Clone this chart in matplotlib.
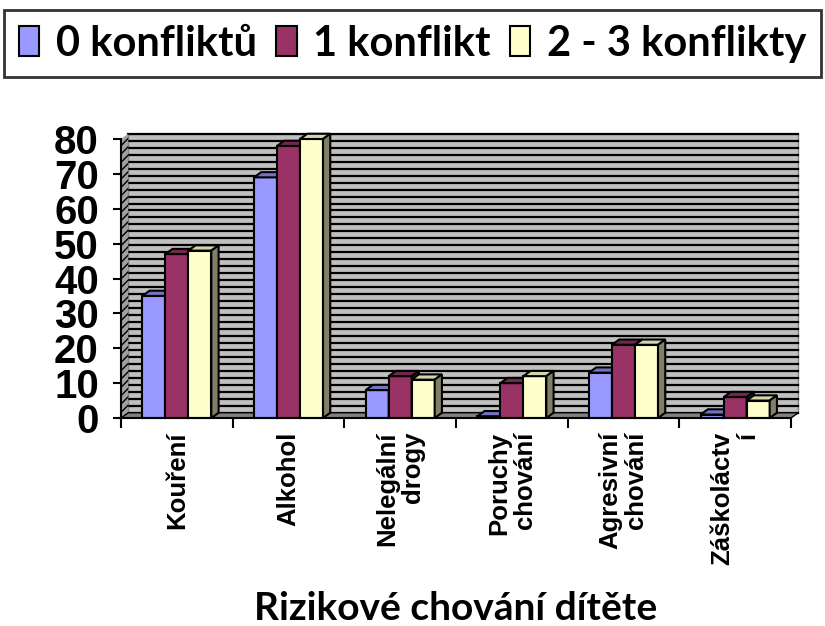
import matplotlib
matplotlib.use("Agg")
import matplotlib.pyplot as plt
from matplotlib.patches import Polygon, Patch

# data
categories = ["Kouření", "Alkohol", "Nelegální\ndrogy", "Poruchy\nchování",
              "Agresivní\nchování", "Záškoláctv\ní"]
series_names = ["0 konfliktů", "1 konflikt", "2 - 3 konflikty"]
zero_conf = [35, 69, 8, 0.5, 13, 1]
one_conf = [47, 78, 12, 10, 21, 6]
two_three_conf = [48, 80, 11, 12, 21, 5]
y_ticks = [0, 10, 20, 30, 40, 50, 60, 70, 80]

series = [zero_conf, one_conf, two_three_conf]
front = ["#9999FF", "#993366", "#FFFFCC"]
top = ["#7373C0", "#732650", "#D5D5AA"]
side = ["#4D4D80", "#4D1A33", "#808066"]

W, H = 825, 626
fig = plt.figure(figsize=(W / 100, H / 100), dpi=100)

# axes placed so that 0..80 and the category range sit where the original has them
x_l, x_r, y_b, y_t = 121, 791, 418, 139
ax = fig.add_axes([x_l / W, 1 - y_b / H, (x_r - x_l) / W, (y_b - y_t) / H])
ax.set_xlim(-0.5, len(categories) - 0.5)
ax.set_ylim(0, 80)
ax.patch.set_visible(False)

dx, dy = 0.065, 1.5      # depth of the 3d look, in data units
xmin, xmax = -0.5, len(categories) - 0.5

# back wall with gridlines
ax.add_patch(Polygon([(xmin + dx, dy), (xmax + dx, dy), (xmax + dx, 80 + dy),
                      (xmin + dx, 80 + dy)], closed=True, facecolor="#C0C0C0",
                     edgecolor="#808080", lw=1, clip_on=False, zorder=0))
for g in range(0, 81, 2):
    ax.plot([xmin + dx, xmax + dx], [g + dy, g + dy], color="black", lw=1.6,
            clip_on=False, zorder=0.5)

# left wall (hatched)
ax.add_patch(Polygon([(xmin, 0), (xmin + dx, dy), (xmin + dx, 80 + dy), (xmin, 80)],
                     closed=True, facecolor="#A0A0A0", edgecolor="black", lw=0,
                     hatch="////", clip_on=False, zorder=0.6))
# floor
ax.add_patch(Polygon([(xmin, 0), (xmax, 0), (xmax + dx, dy), (xmin + dx, dy)],
                     closed=True, facecolor="#808080", edgecolor="black", lw=1,
                     clip_on=False, zorder=0.7))

w = 0.206
z = 1
for i in range(len(categories)):
    for j, vals in enumerate(series):
        v = vals[i]
        x0 = i + (j - 1) * w - w / 2
        ax.bar(x0, v, width=w, align="edge", color=front[j], edgecolor="black",
               lw=1.5, zorder=z, clip_on=False)
        ax.add_patch(Polygon([(x0, v), (x0 + w, v), (x0 + w + dx, v + dy), (x0 + dx, v + dy)],
                             closed=True, facecolor=top[j], edgecolor="black", lw=1.5,
                             zorder=z, clip_on=False))
        ax.add_patch(Polygon([(x0 + w, 0), (x0 + w + dx, dy), (x0 + w + dx, v + dy), (x0 + w, v)],
                             closed=True, facecolor=side[j], edgecolor="black", lw=1.5,
                             zorder=z, clip_on=False))
        z += 1

for s in ["top", "right"]:
    ax.spines[s].set_visible(False)
ax.spines["left"].set_linewidth(1.5)
ax.spines["bottom"].set_linewidth(1.5)
ax.spines["left"].set_zorder(50)
ax.spines["bottom"].set_zorder(50)

ax.tick_params(axis="y", length=6, width=1.5, pad=10)
ax.set_yticks(y_ticks)
ax.set_yticklabels([str(t) for t in y_ticks], fontsize=29, fontweight="bold",
                   family="Liberation Sans")

ax.tick_params(axis="x", which="major", length=7, width=1.5, direction="out")
ax.tick_params(axis="x", which="minor", length=0, pad=10)
ax.set_xticks([k - 0.5 for k in range(len(categories) + 1)])
ax.set_xticklabels([])
ax.set_xticks(range(len(categories)), minor=True)
ax.set_xticklabels(categories, minor=True, rotation=90, fontsize=18.5,
                   fontweight="bold", family="Liberation Sans",
                   va="top", ha="center", multialignment="right",
                   linespacing=1.1)

handles = [Patch(facecolor=front[k], edgecolor="black", lw=1.5) for k in range(3)]
leg = fig.legend(handles, series_names, loc="upper center", ncol=3,
                 bbox_to_anchor=(0.5, 1 - 10 / H), frameon=True, fancybox=False,
                 prop={"family": "Lato", "weight": "bold", "size": 30},
                 handlelength=0.5, handleheight=0.7, handletextpad=0.4,
                 columnspacing=0.45, borderpad=0.35, borderaxespad=0)
leg.get_frame().set_edgecolor("black")
leg.get_frame().set_linewidth(2)

fig.text(456 / W, 1 - 609 / H, "Rizikové chování dítěte", ha="center", va="center",
         fontsize=28, fontweight="bold", family="Lato")

fig.savefig("out.png", dpi=100)
